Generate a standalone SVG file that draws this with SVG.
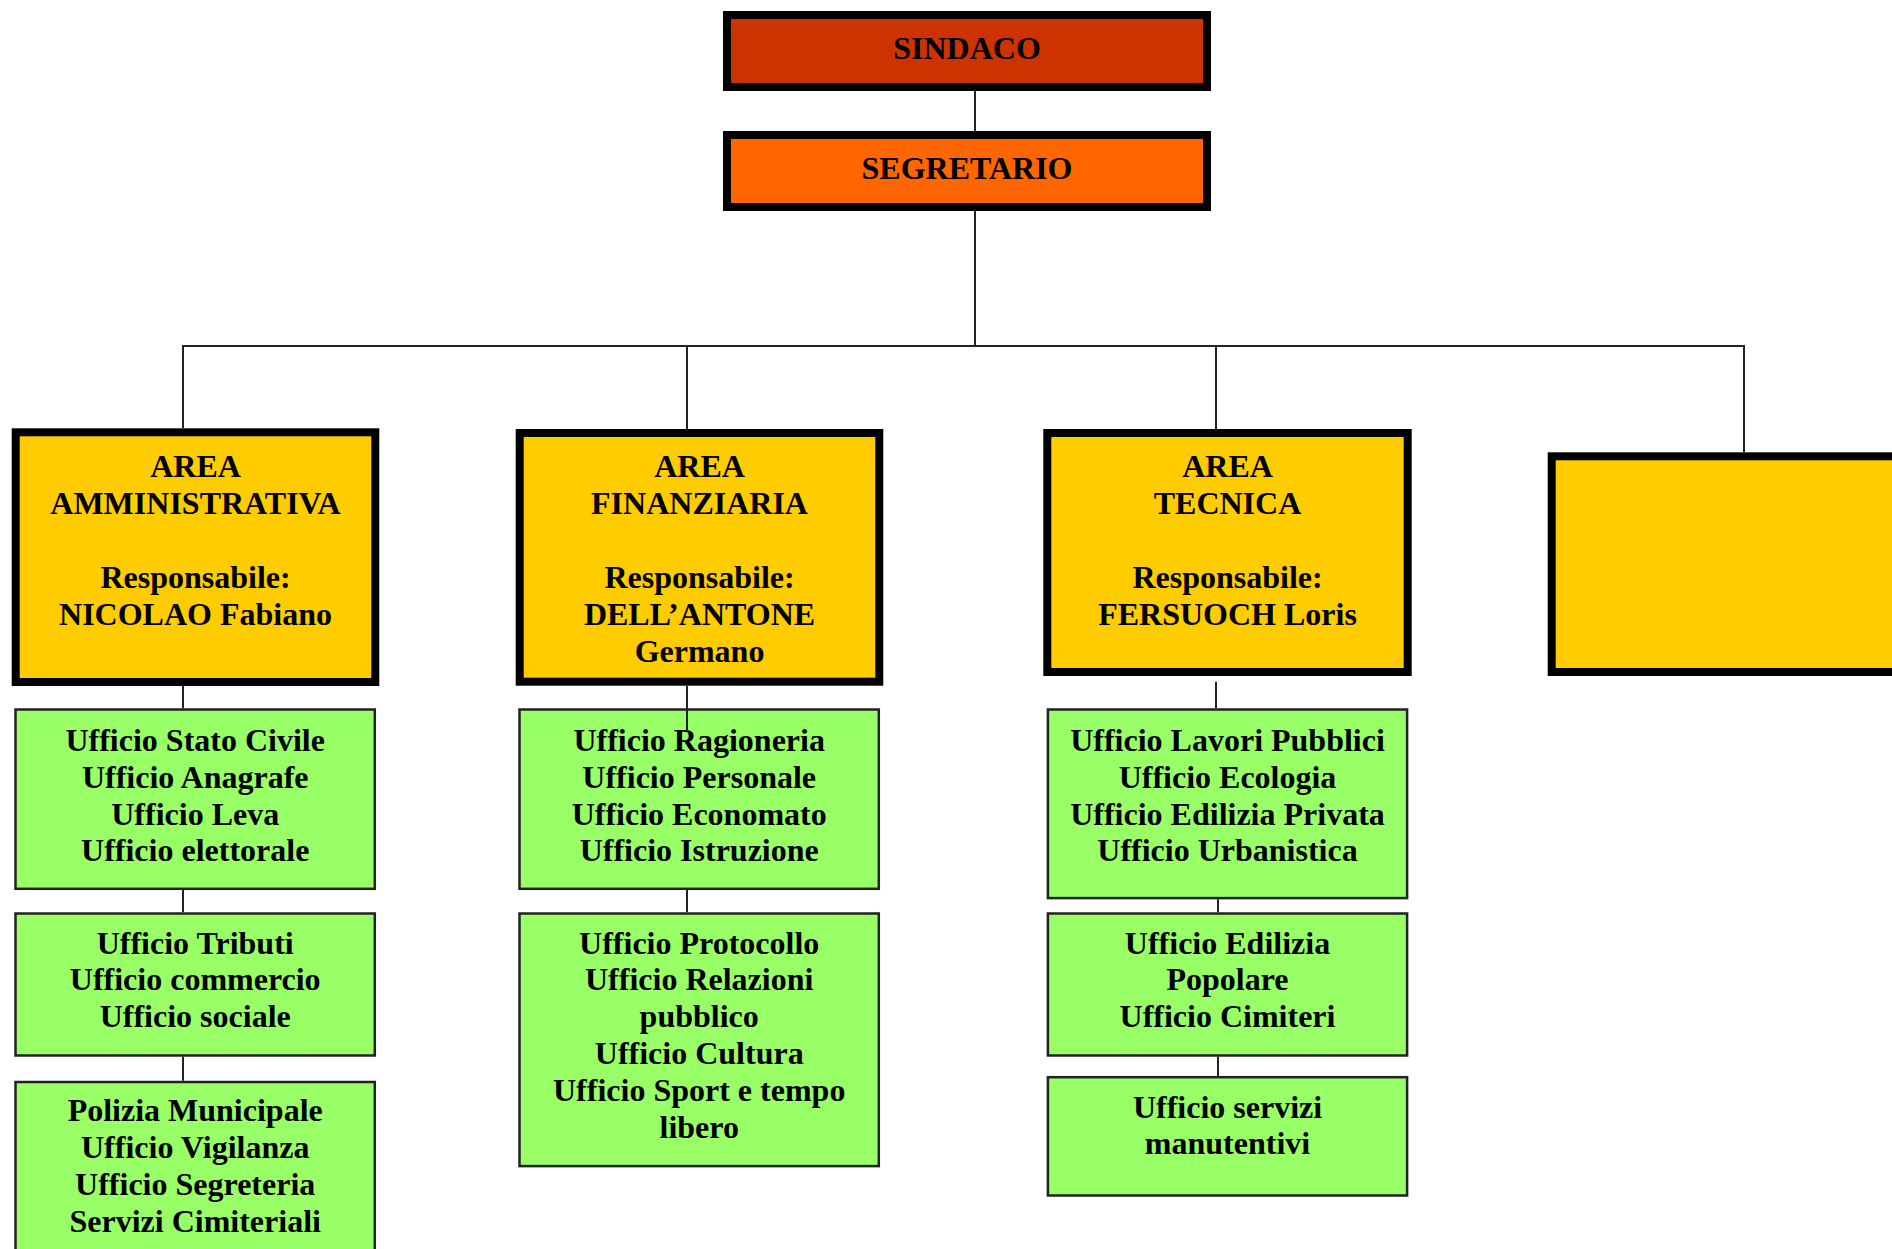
<svg xmlns="http://www.w3.org/2000/svg" width="1892" height="1249" viewBox="0 0 1892 1249">
<style>
text{font-family:"Liberation Serif","Times New Roman",serif;font-weight:bold;font-size:32px;fill:#000;text-anchor:middle}
.top{stroke:#000;stroke-width:8}
.area{fill:#FFCC00;stroke:#000;stroke-width:8}
.green{fill:#99FF66;stroke:#222;stroke-width:2.5}
.conn line{stroke:#222;stroke-width:2}
</style>
<rect width="1892" height="1249" fill="#fff"/>
<g id="sindaco">
<rect class="top" x="727" y="15" width="480" height="72" fill="#CC3300"/>
<text x="967" y="59">SINDACO</text>
</g>
<g id="segretario">
<rect class="top" x="727" y="135" width="480" height="72" fill="#FF6600"/>
<text x="967" y="179">SEGRETARIO</text>
</g>
<g id="area-amministrativa">
<rect class="area" x="15.7" y="432.3" width="359.6" height="249.7"/>
<text x="195.5"><tspan x="195.5" y="476.5">AREA</tspan><tspan x="195.5" y="513.5">AMMINISTRATIVA</tspan><tspan x="195.5" y="587.5">Responsabile:</tspan><tspan x="195.5" y="624.5">NICOLAO Fabiano</tspan></text>
</g>
<g id="area-finanziaria">
<rect class="area" x="519.7" y="433" width="359.6" height="248.7"/>
<text x="699.5"><tspan x="699.5" y="476.5">AREA</tspan><tspan x="699.5" y="513.5">FINANZIARIA</tspan><tspan x="699.5" y="587.5">Responsabile:</tspan><tspan x="699.5" y="624.5">DELL’ANTONE</tspan><tspan x="699.5" y="661.5">Germano</tspan></text>
</g>
<g id="area-tecnica">
<rect class="area" x="1047.3" y="433" width="360.4" height="239"/>
<text x="1227.5"><tspan x="1227.5" y="476.5">AREA</tspan><tspan x="1227.5" y="513.5">TECNICA</tspan><tspan x="1227.5" y="587.5">Responsabile:</tspan><tspan x="1227.5" y="624.5">FERSUOCH Loris</tspan></text>
</g>
<g id="area-4">
<rect class="area" x="1551.7" y="456.3" width="420" height="215.7"/>
</g>
<g id="uff-1a">
<rect class="green" x="15.5" y="709.5" width="359.3" height="179.3"/>
<text x="195.2"><tspan x="195.2" y="751">Ufficio Stato Civile</tspan><tspan x="195.2" y="787.8">Ufficio Anagrafe</tspan><tspan x="195.2" y="824.6">Ufficio Leva</tspan><tspan x="195.2" y="861.4">Ufficio elettorale</tspan></text>
</g>
<g id="uff-1b">
<rect class="green" x="15.5" y="913.5" width="359.3" height="142"/>
<text x="195.2"><tspan x="195.2" y="953.5">Ufficio Tributi</tspan><tspan x="195.2" y="990.3">Ufficio commercio</tspan><tspan x="195.2" y="1027.1">Ufficio sociale</tspan></text>
</g>
<g id="uff-1c">
<rect class="green" x="15.5" y="1082" width="359.3" height="220"/>
<text x="195.2"><tspan x="195.2" y="1121.3">Polizia Municipale</tspan><tspan x="195.2" y="1158.1">Ufficio Vigilanza</tspan><tspan x="195.2" y="1194.9">Ufficio Segreteria</tspan><tspan x="195.2" y="1231.7">Servizi Cimiteriali</tspan></text>
</g>
<g id="uff-2a">
<rect class="green" x="519.5" y="709.5" width="359.3" height="179.3"/>
<text x="699.2"><tspan x="699.2" y="751">Ufficio Ragioneria</tspan><tspan x="699.2" y="787.8">Ufficio Personale</tspan><tspan x="699.2" y="824.6">Ufficio Economato</tspan><tspan x="699.2" y="861.4">Ufficio Istruzione</tspan></text>
</g>
<g id="uff-2b">
<rect class="green" x="519.5" y="913.5" width="359.3" height="252.6"/>
<text x="699.2"><tspan x="699.2" y="953.5">Ufficio Protocollo</tspan><tspan x="699.2" y="990.3">Ufficio Relazioni</tspan><tspan x="699.2" y="1027.1">pubblico</tspan><tspan x="699.2" y="1063.9">Ufficio Cultura</tspan><tspan x="699.2" y="1100.7">Ufficio Sport e tempo</tspan><tspan x="699.2" y="1137.5">libero</tspan></text>
</g>
<g id="uff-3a">
<rect class="green" x="1047.9" y="709.5" width="359.2" height="188.6"/>
<text x="1227.5"><tspan x="1227.5" y="751">Ufficio Lavori Pubblici</tspan><tspan x="1227.5" y="787.8">Ufficio Ecologia</tspan><tspan x="1227.5" y="824.6">Ufficio Edilizia Privata</tspan><tspan x="1227.5" y="861.4">Ufficio Urbanistica</tspan></text>
</g>
<g id="uff-3b">
<rect class="green" x="1047.9" y="913.5" width="359.2" height="142"/>
<text x="1227.5"><tspan x="1227.5" y="953.5">Ufficio Edilizia</tspan><tspan x="1227.5" y="990.3">Popolare</tspan><tspan x="1227.5" y="1027.1">Ufficio Cimiteri</tspan></text>
</g>
<g id="uff-3c">
<rect class="green" x="1047.9" y="1077.2" width="359.2" height="118.3"/>
<text x="1227.5"><tspan x="1227.5" y="1117.5">Ufficio servizi</tspan><tspan x="1227.5" y="1154.3">manutentivi</tspan></text>
</g>
<g id="connectors" class="conn">
<line x1="975" y1="91" x2="975" y2="131"/>
<line x1="975" y1="211" x2="975" y2="346"/>
<line x1="182" y1="346" x2="1745" y2="346"/>
<line x1="183" y1="346" x2="183" y2="428"/>
<line x1="687" y1="346" x2="687" y2="429"/>
<line x1="1216" y1="346" x2="1216" y2="429"/>
<line x1="1744" y1="346" x2="1744" y2="452"/>
<line x1="183" y1="686" x2="183" y2="708.3"/>
<line x1="183" y1="890" x2="183" y2="912.3"/>
<line x1="183" y1="1056.7" x2="183" y2="1080.7"/>
<line x1="687" y1="685.7" x2="687" y2="731"/>
<line x1="687" y1="890" x2="687" y2="912.3"/>
<line x1="1216" y1="681.7" x2="1216" y2="708.3"/>
<line x1="1218" y1="899.3" x2="1218" y2="912.3"/>
<line x1="1218" y1="1056.7" x2="1218" y2="1076"/>
</g>
</svg>
